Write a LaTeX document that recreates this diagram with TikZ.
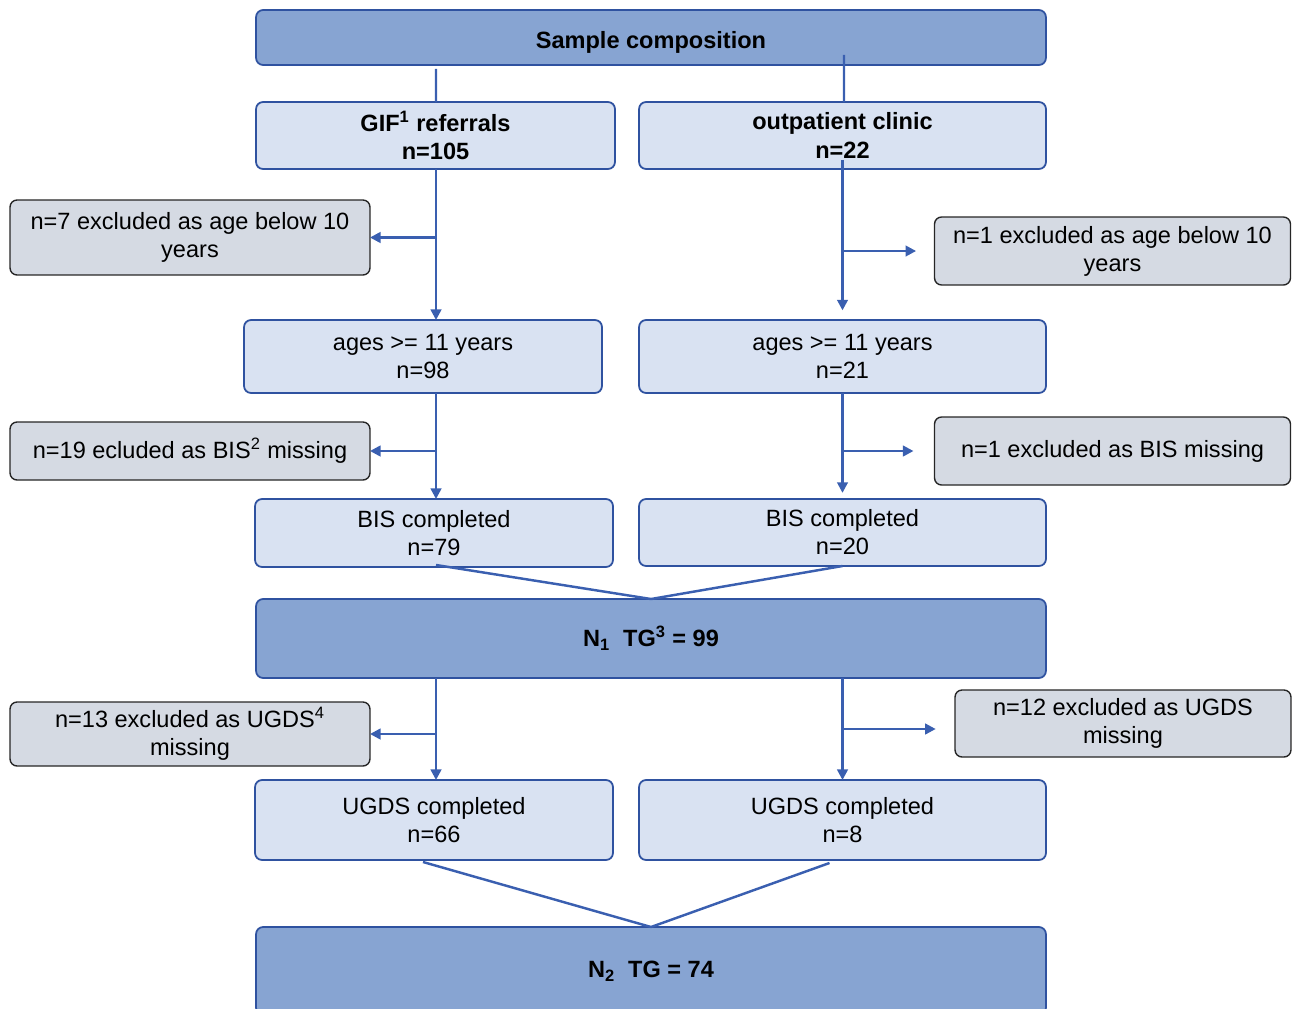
\documentclass[tikz,border=0pt]{standalone}
\usepackage{fontspec}
\setmainfont{Liberation Sans}
\usetikzlibrary{arrows.meta,calc}
\definecolor{darkfill}{HTML}{87A4D2}
\definecolor{lightfill}{HTML}{D9E2F2}
\definecolor{grayfill}{HTML}{D5DAE3}
\definecolor{bluebord}{HTML}{2F52A0}
\definecolor{connc}{HTML}{3A5FB0}
\begin{document}
\begin{tikzpicture}[x=0.02cm,y=-0.02cm,
  every node/.style={font=\fontsize{13.4}{16}\selectfont, align=center, inner sep=0pt, outer sep=0pt},
  mainbox/.style={draw=bluebord, line width=1pt, fill=darkfill, rounded corners=4pt, font=\fontsize{13.4}{16}\selectfont\bfseries},
  srcbox/.style={draw=bluebord, line width=1pt, fill=lightfill, rounded corners=4pt, font=\fontsize{13.4}{16}\selectfont\bfseries},
  stagebox/.style={draw=bluebord, line width=1pt, fill=lightfill, rounded corners=4pt},
  exbox/.style={draw=black!85, line width=0.8pt, fill=grayfill, rounded corners=4pt},
  conn/.style={draw=connc, line width=1.4pt},
  arr/.style={conn, -{Triangle[length=6pt,width=6pt]}}
]
\useasboundingbox (0,0) rectangle (1292,1008);

\node[mainbox, minimum width=15.8cm, minimum height=1.1cm, text height=13pt, text depth=0pt] (top) at (651,37.5) {Sample composition};
\node[srcbox, minimum width=7.18cm, minimum height=1.34cm] (gif) at (435.5,135.5) {GIF\textsuperscript{1} referrals\\n=105};
\node[srcbox, minimum width=8.14cm, minimum height=1.34cm] (out) at (842.5,135.5) {outpatient clinic\\n=22};

\node[exbox, minimum width=7.2cm, minimum height=1.5cm] (ex1) at (190,237.5) {n=7 excluded as age below 10\\years};
\node[exbox, minimum width=7.12cm, minimum height=1.36cm] (ex2) at (1112.5,251) {n=1 excluded as age below 10\\years};

\node[stagebox, minimum width=7.16cm, minimum height=1.46cm] (ageL) at (423,356.5) {ages >= 11 years\\n=98};
\node[stagebox, minimum width=8.14cm, minimum height=1.46cm] (ageR) at (842.5,356.5) {ages >= 11 years\\n=21};

\node[exbox, minimum width=7.2cm, minimum height=1.16cm] (ex3) at (190,451) {n=19 ecluded as BIS\textsuperscript{2} missing};
\node[exbox, minimum width=7.12cm, minimum height=1.36cm] (ex4) at (1112.5,451) {n=1 excluded as BIS missing};

\node[stagebox, minimum width=7.16cm, minimum height=1.36cm] (bisL) at (434,533) {BIS completed\\n=79};
\node[stagebox, minimum width=8.14cm, minimum height=1.34cm] (bisR) at (842.5,532.5) {BIS completed\\n=20};

\node[mainbox, minimum width=15.8cm, minimum height=1.58cm] (n1) at (651,638.5) {N\textsubscript{1}\ \ TG\textsuperscript{3} = 99};

\node[exbox, minimum width=7.2cm, minimum height=1.28cm] (ex5) at (190,734) {n=13 excluded as UGDS\textsuperscript{4}\\missing};
\node[exbox, minimum width=6.72cm, minimum height=1.34cm] (ex6) at (1123,723.5) {n=12 excluded as UGDS\\missing};

\node[stagebox, minimum width=7.16cm, minimum height=1.6cm] (ugL) at (434,820) {UGDS completed\\n=66};
\node[stagebox, minimum width=8.14cm, minimum height=1.6cm] (ugR) at (842.5,820) {UGDS completed\\n=8};

\node[mainbox, minimum width=15.8cm, minimum height=1.76cm] (n2) at (651,971) {N\textsubscript{2}\ \ TG = 74};

% helper coordinates for the trunks
\coordinate (gL) at ($(gif.south)+(0.5,0)$);
\coordinate (aL) at ($(ageL.south)+(13,0)$);
\coordinate (nL) at ($(n1.south)+(-215,0)$);
\coordinate (oR) at ($(out.south)+(0,-9)$);
\coordinate (nR) at (n1.south -| ugR.north);
\coordinate (e6) at ($(ex6.west)+(0,5.5)$);

% top split
\draw[conn] ($(top.south)+(-215,4)$) -- ($(gif.north)+(0.5,0)$);
\draw[conn] ($(top.south)+(193,-10)$) -- ($(out.north)+(1.5,0)$);

% left column
\draw[arr] (gL) -- (gL |- ageL.north);
\draw[arr] (gL |- ex1.east) -- (ex1.east);
\draw[arr] (aL) -- (aL |- bisL.north);
\draw[arr] (aL |- ex3.east) -- (ex3.east);
\draw[arr] (nL) -- (nL |- ugL.north);
\draw[arr] (nL |- ex5.east) -- (ex5.east);

% right column
\draw[arr, shorten >=5.5pt] (oR) -- (oR |- ageR.north);
\draw[arr, shorten >=10.5pt] (oR |- ex2.west) -- (ex2.west);
\draw[arr, shorten >=3.5pt] (ageR.south) -- (ageR.south |- bisR.north);
\draw[arr, shorten >=12pt] (ageR.south |- ex4.west) -- (ex4.west);
\draw[arr] (nR) -- (ugR.north);
\draw[arr, shorten >=11pt] (nR |- e6) -- (e6);

% merges
\draw[conn] ($(bisL.south)+(2,-2)$) -- (n1.north);
\draw[conn] (bisR.south) -- (n1.north);
\draw[conn] ($(ugL.south)+(-11,2)$) -- (n2.north);
\draw[conn] ($(ugR.south)+(-13,3)$) -- (n2.north);
\end{tikzpicture}
\end{document}
